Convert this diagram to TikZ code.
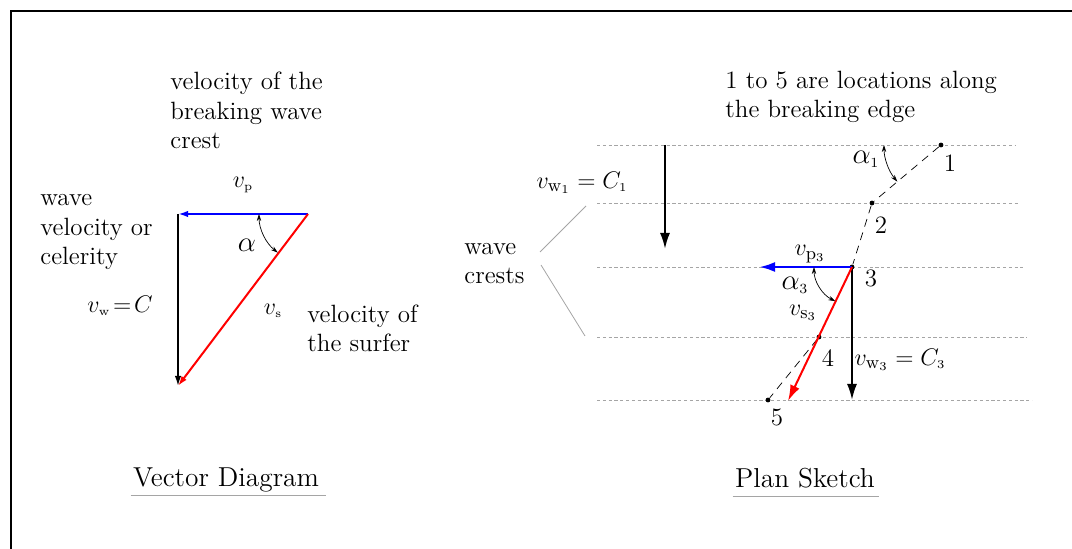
\documentclass[tikz,border=0pt]{standalone}
\usepackage{amsmath}
\usepackage{xcolor}
\usepackage{tikz}
\usetikzlibrary{arrows.meta, positioning, calc}
\definecolor{crestc}{RGB}{165,165,165}
\definecolor{peelc}{RGB}{0,0,255}
\definecolor{surfc}{RGB}{255,0,0}
\newcommand{\lbl}{\fontsize{12.5}{14.9}\selectfont}
\newcommand{\ttl}{\fontsize{13.7}{16}\selectfont}
\newcommand{\anglbl}{\fontsize{14}{16}\selectfont}
\tikzset{
  note/.style={font=\lbl, align=left, inner sep=0pt},
  vecarrow/.style={-{Latex[length=8pt,width=5pt]}, line width=1pt},
  smallarrow/.style={-{Latex[length=5pt,width=3.2pt]}, line width=0.8pt},
  crestline/.style={crestc, line width=0.4pt, dash pattern=on 1.6pt off 1.3pt},
  edgeline/.style={line width=0.35pt, dash pattern=on 4pt off 3pt},
  locdot/.style={circle, fill, inner sep=0pt, minimum size=2.4pt},
  anglearc/.style={{Stealth[length=3.5pt,width=2.2pt]}-{Stealth[length=3.5pt,width=2.2pt]},
    line width=0.35pt},
}

\begin{document}
\begin{tikzpicture}[x=0.5pt, y=-0.5pt]
  \useasboundingbox (0,0) rectangle (1072,549);
  \draw[line width=1pt] (11,549) -- (11,11) -- (1072,11);

  % vector diagram
  \coordinate (corner) at (178,214);
  \coordinate (peelstart) at (308,214);
  \coordinate (wavebot) at (178,386);
  \draw[smallarrow, peelc, line width=1.2pt] (peelstart) -- (corner);
  \draw[smallarrow] (corner) -- (wavebot);
  \draw[smallarrow, surfc, line width=1pt] (peelstart) -- (wavebot);
  \draw[anglearc] ($(peelstart)+(180:49)$) arc[start angle=180, end angle=128, radius=49];
  % multi-line notes: base = last line
  \node[note, anchor=base west] (crestnote) at (170,149) {velocity of the\\breaking wave\\crest};
  \node[note, anchor=base west] (wavenote) at (40,265) {wave\\velocity or\\celerity};
  \node[note, anchor=base west] (surfnote) at (307,352) {velocity of\\the surfer};
  \node[font=\lbl] (vp) at (243,185) {$v_{\scriptscriptstyle\mathrm{p}}$};
  \node[font=\anglbl] (alpha) at (247,245) {$\alpha$};
  \node[font=\lbl] (vw) at (120,306) {$v_{\scriptscriptstyle\mathrm{w}}\!=\!C$};
  \node[font=\lbl] (vs) at (273,311) {$v_{\scriptscriptstyle\mathrm{s}}$};
  \node[font=\ttl, inner sep=0pt, anchor=base] (vectitle) at (226,487) {Vector Diagram};
  \draw[crestc, line width=0.8pt] ([yshift=-4.2pt, xshift=-1pt]vectitle.base west) -- ([yshift=-4.2pt, xshift=3.5pt]vectitle.base east);

  % plan sketch
  \foreach \y/\xe in {145/1015, 203/1018, 267/1023, 337/1027, 400/1032}
    \draw[crestline] (597,\y) -- (\xe,\y);
  \node[locdot] (loc1) at (941,145) {};
  \node[locdot] (loc2) at (872,203) {};
  \node[locdot] (loc3) at (852,267) {};
  \node[locdot] (loc4) at (819,337) {};
  \node[locdot] (loc5) at (768,400) {};
  \node[font=\lbl] (num1) at (950,163) {1};
  \node[font=\lbl] (num2) at (881,225) {2};
  \node[font=\lbl] (num3) at (871,278) {3};
  \node[font=\lbl] (num4) at (828,358) {4};
  \node[font=\lbl] (num5) at (777,417) {5};
  \draw[edgeline] (loc1) -- (loc2) -- (loc3);
  \draw[edgeline] (loc4) -- (loc5);

  \coordinate (wavetop) at (665,145);
  \coordinate (wavetip1) at (665,249);
  \coordinate (peeltip) at (759,267);
  \coordinate (wavetip3) at (852,400);
  \coordinate (surftip) at (788,401);
  \draw[vecarrow] (wavetop) -- (wavetip1);
  \draw[vecarrow, peelc, line width=1.4pt] (loc3.center) -- (peeltip);
  \draw[vecarrow] (loc3.center) -- (wavetip3);
  \draw[vecarrow, surfc] (loc3.center) -- (surftip);
  \draw[anglearc] ($(loc1.center)+(180:57)$) arc[start angle=180, end angle=140, radius=57];
  \draw[anglearc] ($(loc3.center)+(180:38)$) arc[start angle=180, end angle=116, radius=38];

  \node[font=\anglbl] (alpha1) at (866,159) {$\alpha_{\scriptscriptstyle 1}$};
  \node[font=\anglbl] (alpha3) at (795,285) {$\alpha_{\scriptscriptstyle 3}$};
  \node[font=\lbl] (vp3) at (810,254) {$v_{\mathrm{p}_3}$};
  \node[font=\lbl] (vs3) at (803,313) {$v_{\mathrm{s}_3}$};
  \node[font=\lbl] (vw3) at (900,360) {$v_{\mathrm{w}_3} = C_{\scriptscriptstyle 3}$};
  \node[font=\lbl] (vw1) at (582,183) {$v_{\mathrm{w}_1} = C_{\scriptscriptstyle 1}$};

  \node[note, anchor=base west] (crestlbl) at (464,284) {wave\\crests};
  \coordinate (crestfrom2) at (540,252);
  \coordinate (crestto2) at (586,206);
  \coordinate (crestfrom4) at (541,265);
  \coordinate (crestto4) at (585,336);
  \draw[crestc, line width=0.4pt] (crestfrom2) -- (crestto2);
  \draw[crestc, line width=0.4pt] (crestfrom4) -- (crestto4);
  \node[note, anchor=base west] (edgenote) at (725,118) {1 to 5 are locations along\\the breaking edge};

  \node[font=\ttl, inner sep=0pt, anchor=base] (plantitle) at (805,488) {Plan Sketch};
  \draw[crestc, line width=0.8pt] ([yshift=-4.2pt, xshift=-1pt]plantitle.base west) -- ([yshift=-4.2pt, xshift=2pt]plantitle.base east);
\end{tikzpicture}
\end{document}
